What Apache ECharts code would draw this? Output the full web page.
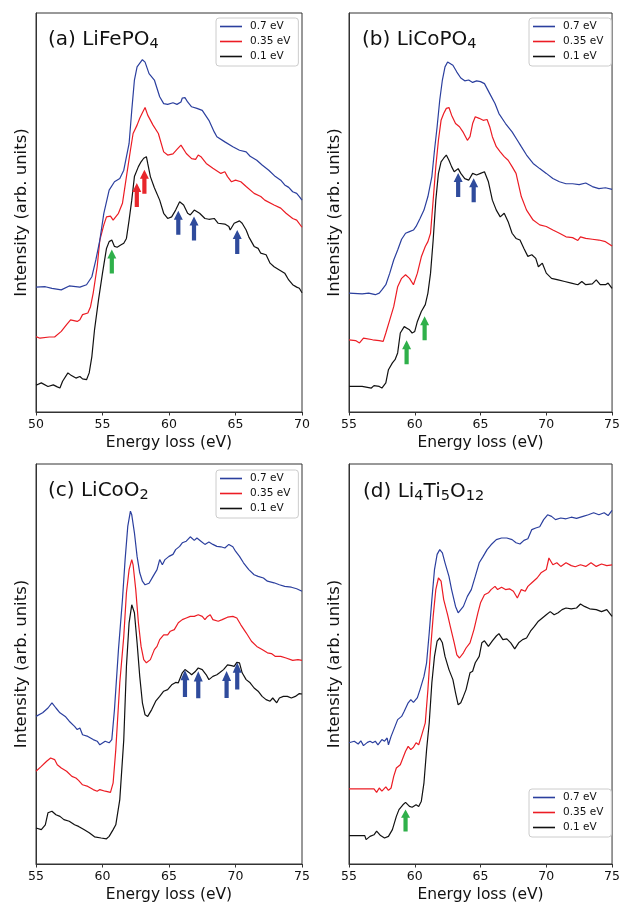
<!DOCTYPE html>
<html>
<head>
<meta charset="utf-8">
<script src="https://cdn.jsdelivr.net/npm/echarts@6/dist/echarts.min.js"></script>
<style>html,body{margin:0;padding:0;background:#fff}#c{width:623px;height:905px}</style>
</head>
<body>
<div id="c"></div>
<script>
// ---------- DATA (x = energy loss in eV, y = intensity in arb. units, offset spectra) ----------
const xTicksAB = [50, 55, 60, 65, 70];
const xTicksCD = [55, 60, 65, 70, 75];
const legendNames = ['0.7 eV', '0.35 eV', '0.1 eV'];

// (a) LiFePO4
const A_blue = [[50,31.3],[50.7,31.4],[51.2,31],[51.9,30.6],[52.5,31.6],[53.3,31.3],[53.8,31.9],[54.2,33.9],[54.5,38.1],[54.8,43.1],[55.1,49.8],[55.5,55.6],[55.9,57.7],[56.3,58.5],[56.6,60.6],[57.0,67.3],[57.2,75.6],[57.4,83.2],[57.6,86.5],[58.0,88.3],[58.2,87.7],[58.5,84.8],[58.9,83.2],[59.3,79.0],[59.6,77.3],[59.9,77.1],[60.3,77.5],[60.6,77.1],[60.9,77.7],[61.0,78.7],[61.2,78.8],[61.4,77.7],[61.7,76.5],[62.1,76.1],[62.5,75.6],[63.0,73.1],[63.4,70.2],[63.6,69.0],[64.2,67.7],[64.8,66.5],[65.3,65.6],[65.8,65.2],[66.1,64.1],[66.6,63.1],[67.0,61.9],[67.5,60.6],[68.0,59.0],[68.4,58.1],[68.7,56.9],[69.0,56.3],[69.3,55.2],[69.6,54.8],[69.8,54.0],[70.0,53.1]];
const A_red = [[50,18.9],[50.3,18.5],[51.0,18.8],[51.4,18.8],[51.9,20.2],[52.3,21.9],[52.6,23.1],[53.1,22.7],[53.3,23.1],[53.5,24.4],[53.9,24.8],[54.1,26.4],[54.3,29.8],[54.6,36.4],[54.8,43.1],[55.1,46.9],[55.3,48.9],[55.6,49.1],[55.8,48.1],[56.2,49.8],[56.5,52.3],[56.8,59.0],[57.1,65.6],[57.3,69.8],[57.6,71.9],[57.8,73.6],[58.0,75.0],[58.2,76.3],[58.4,74.4],[58.8,71.9],[59.2,69.8],[59.6,65.2],[59.9,64.4],[60.3,64.7],[60.6,65.8],[60.9,66.9],[61.0,66.4],[61.3,64.8],[61.7,63.5],[62.0,63.3],[62.2,64.4],[62.4,64.0],[62.8,62.3],[63.3,61.1],[63.9,59.8],[64.2,60.2],[64.4,59.0],[64.7,57.7],[65.0,58.1],[65.4,57.7],[65.8,56.5],[66.4,54.8],[66.9,54.0],[67.2,53.1],[67.9,51.9],[68.4,51.1],[68.8,49.8],[69.3,48.5],[69.6,48.1],[70.0,46.3]];
const A_black = [[50,6.7],[50.4,7.3],[50.9,6.4],[51.3,6.8],[51.6,6.3],[51.8,6.0],[52.0,7.7],[52.4,9.8],[52.6,9.3],[53.0,8.5],[53.3,8.9],[53.5,8.3],[53.8,8.1],[54.0,9.8],[54.2,13.9],[54.4,20.6],[54.7,28.1],[55.0,34.8],[55.3,41.0],[55.5,42.7],[55.7,43.1],[55.9,41.5],[56.1,41.3],[56.4,41.9],[56.6,42.3],[56.8,43.5],[57.0,48.1],[57.2,53.1],[57.4,59.0],[57.7,61.5],[57.9,62.7],[58.1,63.6],[58.3,64.0],[58.4,62.3],[58.6,59.0],[58.9,56.2],[59.3,53.1],[59.6,49.8],[59.9,48.5],[60.2,48.9],[60.5,50.6],[60.8,52.7],[61.1,51.9],[61.4,49.8],[61.6,49.4],[61.9,50.6],[62.0,51.0],[62.3,49.8],[62.7,48.5],[63.0,48.3],[63.4,48.5],[63.7,47.3],[64.2,47.1],[64.5,46.5],[64.6,45.6],[64.9,47.3],[65.3,47.9],[65.5,47.3],[65.8,45.6],[66.0,43.9],[66.4,41.5],[66.7,41.0],[66.9,39.8],[67.3,39.4],[67.6,37.3],[67.9,36.4],[68.3,35.6],[68.7,34.8],[69.0,33.1],[69.3,31.9],[69.6,31.3],[69.8,31.0],[70.0,29.9]];
const A_arrowsGreen = [[55.7,37.7]];
const A_arrowsRed = [[57.58,54.4],[58.15,57.7]];
const A_arrowsBlue = [[60.7,47.4],[61.88,46.0],[65.13,42.6]];

// (b) LiCoPO4
const B_blue = [[55.0,29.8],[56.0,29.6],[56.5,29.8],[57.0,29.4],[57.3,29.8],[57.5,30.6],[57.8,31.9],[58.1,34.8],[58.4,38.1],[58.7,40.6],[59.0,43.3],[59.3,44.8],[59.6,45.2],[59.9,45.6],[60.1,46.5],[60.4,48.5],[60.7,50.6],[61.0,54.0],[61.3,59.0],[61.5,65.6],[61.7,71.5],[61.9,78.2],[62.1,83.2],[62.3,86.5],[62.5,87.7],[62.6,88.0],[62.9,86.9],[63.2,85.2],[63.5,83.7],[63.8,83.0],[64.1,83.2],[64.4,82.6],[64.7,83.0],[65.0,82.8],[65.3,82.3],[65.7,79.8],[66.1,77.3],[66.4,74.8],[66.9,72.3],[67.4,70.2],[67.8,68.1],[68.1,66.5],[68.5,64.4],[69.0,62.3],[69.5,61.0],[70.0,59.8],[70.5,58.5],[71.0,57.7],[71.5,57.2],[72.0,57.2],[72.5,57.0],[73.0,57.4],[73.5,56.5],[74.0,56.0],[74.5,56.2],[75.0,55.8]];
const B_red = [[55.0,18.1],[55.5,17.9],[55.8,17.3],[56.1,18.5],[56.8,18.1],[57.3,17.9],[57.6,17.7],[57.8,19.8],[58.1,23.1],[58.4,26.4],[58.7,31.4],[59.0,33.5],[59.3,34.4],[59.6,33.5],[59.9,31.9],[60.0,32.3],[60.2,34.8],[60.5,38.9],[60.8,41.5],[61.0,42.7],[61.2,44.8],[61.4,53.1],[61.6,61.5],[61.8,68.1],[62.0,73.1],[62.2,74.8],[62.4,76.1],[62.6,76.3],[62.8,74.4],[63.1,72.3],[63.4,71.5],[63.7,70.0],[64.0,68.1],[64.2,69.0],[64.4,72.3],[64.6,74.0],[64.9,73.6],[65.2,73.1],[65.5,73.3],[65.7,71.5],[65.9,69.0],[66.2,66.5],[66.5,65.2],[66.8,64.0],[67.1,63.1],[67.4,61.5],[67.7,59.8],[68.1,54.0],[68.5,50.6],[69.0,48.1],[69.5,46.9],[70.0,46.5],[70.5,45.6],[71.0,44.8],[71.5,43.9],[72.0,43.7],[72.4,43.0],[72.6,43.9],[73.0,43.5],[73.5,43.3],[74.0,43.1],[74.5,42.7],[75.0,41.6]];
const B_black = [[55.0,6.4],[56.0,6.4],[56.7,6.0],[56.9,6.6],[57.3,6.4],[57.5,6.0],[57.8,7.3],[58.0,10.6],[58.3,12.3],[58.5,13.1],[58.7,14.8],[58.9,19.8],[59.2,21.4],[59.4,21.0],[59.6,20.6],[59.8,19.8],[60.0,20.2],[60.2,22.7],[60.5,25.2],[60.8,26.9],[61.0,29.8],[61.2,34.8],[61.4,43.1],[61.6,53.1],[61.8,59.8],[62.0,62.7],[62.2,63.6],[62.4,64.4],[62.6,63.1],[62.8,61.5],[63.0,60.2],[63.3,61.0],[63.5,59.8],[63.8,58.5],[64.1,58.1],[64.4,59.8],[64.7,59.4],[65.0,59.8],[65.3,60.2],[65.6,57.7],[65.9,53.1],[66.2,50.6],[66.5,48.9],[66.8,49.8],[67.1,47.7],[67.4,44.8],[67.7,43.5],[68.0,43.1],[68.3,41.0],[68.6,39.0],[68.9,39.4],[69.2,38.5],[69.4,36.4],[69.7,37.3],[70.0,34.8],[70.4,33.5],[70.9,33.1],[71.4,32.7],[71.9,32.3],[72.4,31.9],[72.7,32.7],[73.0,31.9],[73.5,32.1],[73.8,33.1],[74.1,31.9],[74.5,31.9],[74.7,32.3],[75.0,31.0]];
const B_arrowsGreen = [[59.38,15.0],[60.75,21.0]];
const B_arrowsBlue = [[63.3,56.9],[64.48,55.6]];

// (c) LiCoO2
const C_blue = [[55.0,36.9],[55.5,37.8],[55.9,39.0],[56.2,40.3],[56.5,39.0],[56.8,37.8],[57.2,36.9],[57.5,35.7],[57.9,34.4],[58.1,33.6],[58.3,34.0],[58.5,32.3],[58.9,31.9],[59.3,31.1],[59.6,30.7],[59.8,29.8],[60.2,30.7],[60.5,30.3],[60.7,31.1],[60.9,38.6],[61.2,53.6],[61.5,66.1],[61.7,76.1],[61.9,84.4],[62.1,88.2],[62.2,87.3],[62.4,82.8],[62.6,76.9],[62.8,72.8],[63.0,70.7],[63.2,69.8],[63.5,70.2],[63.8,71.9],[64.1,73.6],[64.3,76.1],[64.5,74.8],[64.7,76.1],[65.0,76.9],[65.3,77.4],[65.5,78.6],[65.8,79.4],[66.0,80.3],[66.3,80.7],[66.6,81.8],[66.9,80.9],[67.1,81.5],[67.4,80.7],[67.7,79.9],[68.0,80.5],[68.3,79.9],[68.6,79.4],[68.9,79.3],[69.2,79.0],[69.5,79.9],[69.8,79.3],[70.0,78.2],[70.3,76.9],[70.6,75.3],[71.0,73.6],[71.4,72.3],[71.7,71.9],[72.1,71.5],[72.4,70.7],[72.9,70.3],[73.3,69.8],[73.7,69.4],[74.2,69.2],[74.6,68.8],[75.0,68.2]];
const C_red = [[55.0,23.2],[55.4,24.4],[55.8,25.7],[56.1,26.5],[56.4,26.1],[56.6,24.8],[56.9,24.0],[57.3,23.2],[57.7,21.9],[58.0,21.5],[58.2,20.9],[58.5,19.8],[58.9,19.4],[59.3,18.6],[59.6,18.2],[59.8,18.6],[60.2,18.2],[60.6,17.9],[60.8,20.3],[61.0,28.6],[61.3,45.3],[61.6,56.9],[61.8,67.8],[62.0,73.6],[62.2,76.1],[62.3,74.8],[62.5,68.6],[62.7,60.3],[62.9,54.4],[63.1,51.1],[63.3,50.3],[63.6,51.1],[63.9,53.6],[64.1,54.4],[64.3,56.1],[64.6,57.3],[64.9,57.3],[65.1,58.2],[65.4,58.6],[65.7,60.3],[66.0,61.1],[66.3,61.5],[66.6,61.9],[66.9,61.9],[67.2,62.3],[67.5,61.9],[67.7,61.1],[67.9,61.9],[68.1,62.3],[68.3,61.1],[68.7,60.7],[69.0,61.1],[69.4,61.7],[69.8,61.9],[70.1,61.5],[70.4,59.8],[70.8,57.8],[71.2,55.7],[71.6,54.4],[72.0,53.6],[72.4,52.8],[72.7,52.6],[73.0,51.9],[73.4,51.9],[73.8,51.5],[74.3,50.9],[74.7,51.1],[75.0,50.9]];
const C_black = [[55.0,9.0],[55.4,8.6],[55.7,9.8],[55.9,12.8],[56.2,13.2],[56.5,12.3],[56.8,11.9],[57.1,11.1],[57.5,10.7],[57.9,9.8],[58.2,9.4],[58.6,8.6],[59.0,7.8],[59.4,6.8],[59.9,6.5],[60.3,6.3],[60.5,6.9],[60.8,8.6],[61.0,9.8],[61.3,16.1],[61.6,31.1],[61.8,49.4],[62.0,60.3],[62.2,64.8],[62.4,62.8],[62.6,55.3],[62.8,46.9],[63.0,40.3],[63.2,37.3],[63.4,36.9],[63.7,38.6],[64.0,40.7],[64.3,41.9],[64.6,43.2],[64.9,43.6],[65.2,44.8],[65.5,45.4],[65.7,45.3],[66.0,47.8],[66.2,48.6],[66.5,47.9],[66.7,47.3],[67.0,48.2],[67.2,49.0],[67.5,48.6],[67.8,47.3],[68.0,46.1],[68.3,46.9],[68.6,47.3],[68.8,47.8],[69.1,48.6],[69.4,49.8],[69.7,49.6],[69.9,49.4],[70.1,50.4],[70.3,50.3],[70.5,47.8],[70.8,46.1],[71.1,45.3],[71.4,44.0],[71.7,43.2],[72.0,41.9],[72.3,41.1],[72.6,40.7],[72.8,41.5],[73.1,40.3],[73.3,41.5],[73.6,41.9],[73.9,41.9],[74.2,41.5],[74.5,41.9],[74.8,42.6],[75.0,42.5]];
const C_arrowsBlue = [[66.2,45.1],[67.2,44.8],[69.33,44.9],[70.13,47.0]];

// (d) Li4Ti5O12
const D_blue = [[55.0,30.3],[55.4,30.7],[55.7,30.0],[55.9,30.8],[56.1,29.6],[56.4,30.4],[56.6,30.7],[56.8,30.3],[57.0,30.7],[57.2,29.8],[57.5,31.1],[57.7,30.7],[57.9,31.5],[58.0,29.8],[58.2,31.9],[58.5,34.4],[58.7,36.1],[59.0,36.9],[59.2,38.2],[59.5,40.3],[59.7,41.1],[59.9,40.4],[60.2,41.6],[60.4,43.6],[60.7,46.9],[60.9,50.3],[61.1,57.8],[61.3,66.1],[61.5,73.6],[61.7,77.4],[61.9,78.6],[62.1,77.8],[62.3,75.3],[62.6,71.9],[62.8,68.6],[63.1,64.4],[63.3,62.8],[63.5,63.6],[63.7,64.4],[64.0,66.9],[64.3,68.6],[64.6,71.9],[64.9,75.3],[65.2,76.9],[65.5,78.6],[65.8,79.8],[66.2,81.1],[66.6,81.5],[67.0,81.5],[67.4,81.1],[67.7,80.3],[68.0,80.0],[68.3,80.9],[68.6,81.3],[68.9,83.6],[69.2,84.0],[69.5,84.3],[69.8,86.1],[70.1,87.3],[70.4,86.9],[70.7,86.1],[71.1,86.5],[71.5,86.3],[71.9,86.7],[72.3,86.4],[72.8,86.9],[73.2,87.3],[73.6,87.8],[74.0,87.3],[74.4,87.8],[74.7,87.1],[75.0,88.4]];
const D_red = [[55.0,18.8],[56.9,18.8],[57.1,17.9],[57.3,19.0],[57.5,18.2],[57.8,19.3],[58.0,18.4],[58.2,19.0],[58.4,21.9],[58.6,24.0],[58.9,24.8],[59.1,26.5],[59.3,28.2],[59.5,29.4],[59.7,28.6],[59.9,29.2],[60.1,30.3],[60.3,29.8],[60.5,31.9],[60.8,35.3],[61.0,43.6],[61.2,53.6],[61.4,61.9],[61.6,68.6],[61.8,71.5],[62.0,70.7],[62.2,66.1],[62.5,62.3],[62.7,59.4],[63.0,55.3],[63.2,52.3],[63.4,51.5],[63.7,52.8],[63.9,54.0],[64.2,55.3],[64.5,58.6],[64.8,62.8],[65.0,65.3],[65.3,67.3],[65.6,67.8],[65.8,68.6],[66.1,69.4],[66.3,68.6],[66.6,69.2],[66.9,68.6],[67.2,68.8],[67.5,68.2],[67.8,66.5],[68.1,68.6],[68.4,68.2],[68.6,69.4],[68.9,70.3],[69.3,71.5],[69.6,72.8],[70.0,73.6],[70.2,76.5],[70.5,74.8],[70.8,75.3],[71.1,74.4],[71.5,75.3],[71.9,74.6],[72.2,74.3],[72.6,74.8],[73.0,74.4],[73.4,75.3],[73.8,74.4],[74.2,75.0],[74.6,74.6],[75.0,74.8]];
const D_black = [[55.0,7.1],[56.2,7.1],[56.3,6.1],[56.6,6.9],[56.9,7.3],[57.1,8.2],[57.4,7.1],[57.7,6.5],[58.0,6.9],[58.3,8.6],[58.6,11.9],[58.8,13.6],[59.1,14.8],[59.3,15.4],[59.6,14.4],[59.8,14.2],[60.1,14.8],[60.3,14.4],[60.5,15.7],[60.7,20.3],[60.9,28.6],[61.1,35.3],[61.3,45.3],[61.5,51.9],[61.7,55.7],[61.9,56.5],[62.1,55.3],[62.3,51.9],[62.6,48.6],[62.9,46.1],[63.1,42.8],[63.3,39.8],[63.5,40.3],[63.7,41.9],[63.9,43.6],[64.2,47.8],[64.4,48.2],[64.6,50.3],[64.9,51.9],[65.1,55.3],[65.3,55.8],[65.6,54.4],[65.9,55.8],[66.2,57.0],[66.4,57.6],[66.7,56.1],[67.0,56.3],[67.3,55.3],[67.6,53.8],[67.9,55.3],[68.2,56.1],[68.5,56.5],[68.8,58.2],[69.1,59.4],[69.4,60.7],[69.7,61.5],[70.0,62.3],[70.3,63.1],[70.6,62.3],[70.9,62.8],[71.2,63.6],[71.5,64.0],[71.9,63.8],[72.3,64.0],[72.6,65.0],[72.9,64.4],[73.3,63.8],[73.8,63.6],[74.2,63.1],[74.6,63.6],[75.0,61.9]];
const D_arrowsGreen = [[59.3,10.9]];

// ---------- STYLE ----------
const FONT = 'DejaVu Sans';
const COL = {blue: '#2b3f9e', red: '#ec1c24', black: '#111111'};
const ARROW = {green: '#2fb04a', red: '#e8262b', blue: '#2f4b9c'};
const ARROW_PATH = 'path://M4.5,0 L9,9 L6.6,9 L6.6,24 L2.4,24 L2.4,9 L0,9 Z';

const grids = [
  {left: 36, top: 13, width: 266, height: 399},
  {left: 349, top: 13, width: 267, height: 399},
  {left: 36, top: 464, width: 266, height: 400},
  {left: 349, top: 464, width: 267, height: 400}
];
const xRanges = [xTicksAB, xTicksCD, xTicksCD, xTicksCD];

const panels = [
  {lines: [A_blue, A_red, A_black], arrows: {green: A_arrowsGreen, red: A_arrowsRed, blue: A_arrowsBlue}, arrowSize: [9, 24]},
  {lines: [B_blue, B_red, B_black], arrows: {green: B_arrowsGreen, blue: B_arrowsBlue}, arrowSize: [9, 24]},
  {lines: [C_blue, C_red, C_black], arrows: {blue: C_arrowsBlue}, arrowSize: [9, 27]},
  {lines: [D_blue, D_red, D_black], arrows: {green: D_arrowsGreen}, arrowSize: [9, 22]}
];

const lineCols = [COL.blue, COL.red, COL.black];
const series = [];
panels.forEach((p, i) => {
  p.lines.forEach((d, k) => {
    series.push({
      type: 'line', name: legendNames[k], xAxisIndex: i, yAxisIndex: i, data: d,
      showSymbol: false, symbol: 'none', lineStyle: {width: 1.2, color: lineCols[k]},
      itemStyle: {color: lineCols[k]}, z: 3 - k + 2
    });
  });
  Object.keys(p.arrows).forEach(c => {
    series.push({
      type: 'scatter', name: 'arrow-' + c + i, xAxisIndex: i, yAxisIndex: i,
      data: p.arrows[c], symbol: ARROW_PATH, symbolSize: p.arrowSize,
      itemStyle: {color: ARROW[c], opacity: 1}, z: 10, silent: true
    });
  });
});

const xAxes = grids.map((g, i) => {
  const t = xRanges[i];
  return {
    type: 'value', gridIndex: i, min: t[0], max: t[t.length - 1], interval: 5,
    name: 'Energy loss (eV)', nameLocation: 'middle', nameGap: 23,
    nameTextStyle: {fontFamily: FONT, fontSize: 15.5, color: '#111'},
    axisLine: {show: true, onZero: false, lineStyle: {color: '#333', width: 1}},
    axisTick: {show: true, inside: false, length: 3.5, lineStyle: {color: '#333'}},
    axisLabel: {fontFamily: FONT, fontSize: 12.5, color: '#111', margin: 6},
    splitLine: {show: false}
  };
});
const yAxes = grids.map((g, i) => ({
  type: 'value', gridIndex: i, min: 0, max: 100,
  name: 'Intensity (arb. units)', nameLocation: 'middle', nameGap: 6,
  nameTextStyle: {fontFamily: FONT, fontSize: 16.5, color: '#111'},
  axisLine: {show: true, lineStyle: {color: '#333', width: 1}},
  axisTick: {show: false}, axisLabel: {show: false}, splitLine: {show: false}
}));

const legendPos = [
  {left: 216, top: 18}, {left: 529, top: 18}, {left: 216, top: 470}, {left: 529, top: 789}
];
const legends = legendPos.map(pos => Object.assign({
  data: legendNames, orient: 'vertical', icon: 'rect', itemWidth: 22, itemHeight: 1.6,
  itemGap: 4, padding: [3, 8, 4, 4], backgroundColor: 'rgba(255,255,255,0.85)',
  borderColor: '#cccccc', borderWidth: 1, borderRadius: 3, selectedMode: false,
  textStyle: {fontFamily: FONT, fontSize: 10.5, color: '#111', padding: [0, 0, 0, 3]}
}, pos));

const richT = {
  m: {fontFamily: FONT, fontSize: 20, fontWeight: 'normal', color: '#111', lineHeight: 25},
  s: {fontFamily: FONT, fontSize: 14.5, fontWeight: 'normal', color: '#111', lineHeight: 25, verticalAlign: 'bottom'}
};
const titles = [
  {text: '{m|(a) LiFePO}{s|4}', left: 43, top: 22},
  {text: '{m|(b) LiCoPO}{s|4}', left: 357, top: 22},
  {text: '{m|(c) LiCoO}{s|2}', left: 43, top: 473},
  {text: '{m|(d) Li}{s|4}{m|Ti}{s|5}{m|O}{s|12}', left: 358, top: 474}
].map(t => Object.assign(t, {textStyle: {fontWeight: 'normal', fontFamily: FONT, rich: richT}}));

const chart = echarts.init(document.getElementById('c'), null, {renderer: 'canvas'});
chart.setOption({
  animation: false,
  backgroundColor: '#ffffff',
  title: titles,
  legend: legends,
  grid: grids.map(g => Object.assign({show: true, borderColor: '#333', borderWidth: 1, backgroundColor: 'transparent'}, g)),
  xAxis: xAxes,
  yAxis: yAxes,
  series: series
});
</script>
</body>
</html>
